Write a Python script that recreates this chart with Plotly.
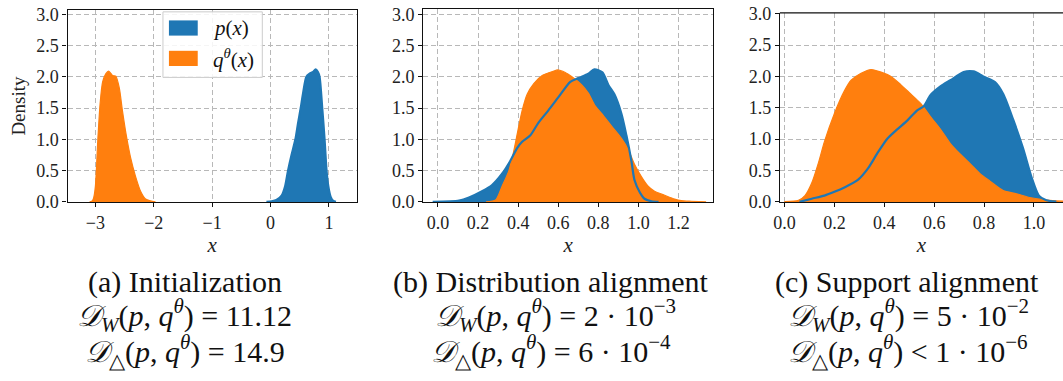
import plotly.graph_objects as go

W, H = 1063, 381
BLUE = "#1f77b4"
ORANGE = "#ff7f0e"
SERIF = "Liberation Serif"

# ---------------- data ----------------
# (a) Initialization
pa_x = [-0.07, 0.02, 0.10, 0.19, 0.25, 0.30, 0.36, 0.426, 0.47, 0.517, 0.56, 0.614, 0.67, 0.73, 0.773, 0.81, 0.84, 0.886, 0.926, 0.96, 0.99, 1.03, 1.07, 1.12]
pa_y = [0, 0.01, 0.03, 0.10, 0.25, 0.5, 0.75, 1.0, 1.25, 1.5, 1.75, 2.0, 2.05, 2.08, 2.12, 2.08, 2.0, 1.5, 1.0, 0.5, 0.25, 0.08, 0.02, 0]
qa_x = [-3.10, -3.06, -3.034, -3.0, -2.96, -2.92, -2.876, -2.82, -2.774, -2.74, -2.706, -2.65, -2.59, -2.537, -2.47, -2.395, -2.31, -2.226, -2.14, -2.056, -1.97]
qa_y = [0, 0.01, 0.05, 0.25, 0.96, 1.56, 1.92, 2.05, 2.09, 2.06, 2.02, 2.01, 1.82, 1.46, 1.06, 0.70, 0.40, 0.17, 0.046, 0.015, 0]

# (b) Distribution alignment
pb_x = [-0.026, 0.106, 0.155, 0.22, 0.27, 0.32, 0.36, 0.395, 0.42, 0.46, 0.50, 0.55, 0.60, 0.66, 0.70, 0.75, 0.78, 0.82, 0.85, 0.88, 0.915, 0.94, 0.965, 0.98, 1.007, 1.03, 1.065, 1.10]
pb_y = [0, 0.02, 0.07, 0.17, 0.27, 0.45, 0.65, 0.86, 0.96, 1.06, 1.26, 1.46, 1.67, 1.92, 1.98, 2.05, 2.12, 2.07, 1.87, 1.72, 1.41, 1.06, 0.65, 0.35, 0.15, 0.05, 0.01, 0]
qb_x = [0.24, 0.288, 0.32, 0.354, 0.378, 0.40, 0.42, 0.445, 0.478, 0.52, 0.585, 0.595, 0.635, 0.668, 0.717, 0.75, 0.783, 0.817, 0.866, 0.916, 0.95, 0.98, 1.015, 1.048, 1.08, 1.13, 1.18, 1.213, 1.263, 1.337]
qb_y = [0, 0.03, 0.25, 0.50, 0.81, 1.16, 1.46, 1.72, 1.89, 2.02, 2.10, 2.11, 2.07, 2.0, 1.87, 1.74, 1.54, 1.41, 1.21, 1.01, 0.83, 0.60, 0.40, 0.25, 0.17, 0.106, 0.045, 0.02, 0.01, 0]

# (c) Support alignment
pc_x = [0.06, 0.109, 0.16, 0.20, 0.24, 0.294, 0.334, 0.373, 0.413, 0.453, 0.493, 0.532, 0.559, 0.585, 0.625, 0.665, 0.718, 0.758, 0.797, 0.844, 0.877, 0.917, 0.956, 0.99, 1.02, 1.05, 1.09]
pc_y = [0, 0.05, 0.10, 0.16, 0.23, 0.35, 0.53, 0.78, 1.01, 1.16, 1.30, 1.46, 1.53, 1.70, 1.84, 1.94, 2.07, 2.08, 2.00, 1.91, 1.72, 1.31, 0.86, 0.40, 0.10, 0.025, 0.005]
qc_x = [0.0, 0.056, 0.082, 0.109, 0.135, 0.16, 0.20, 0.24, 0.267, 0.307, 0.347, 0.387, 0.427, 0.466, 0.506, 0.546, 0.585, 0.625, 0.665, 0.705, 0.744, 0.784, 0.824, 0.877, 0.93, 0.983, 1.036, 1.09, 1.15, 1.2]
qc_y = [0.005, 0.025, 0.10, 0.30, 0.61, 0.96, 1.41, 1.77, 1.94, 2.05, 2.11, 2.07, 2.00, 1.87, 1.72, 1.57, 1.36, 1.16, 0.93, 0.76, 0.61, 0.45, 0.33, 0.18, 0.13, 0.07, 0.035, 0.015, 0.008, 0.005]

xticks_a = [-3, -2, -1, 0, 1]
xticks_b = [0.0, 0.2, 0.4, 0.6, 0.8, 1.0, 1.2]
xticks_c = [0.0, 0.2, 0.4, 0.6, 0.8, 1.0, 1.2]
yticks = [0.0, 0.5, 1.0, 1.5, 2.0, 2.5, 3.0]

captions = [
    ["(a) Initialization",
     "<i>𝒟</i><sub><i>W</i></sub>(<i>p</i>, <i>q</i><sup><i>θ</i></sup>) = 11.12",
     "<i>𝒟</i><sub>△</sub>(<i>p</i>, <i>q</i><sup><i>θ</i></sup>) = 14.9"],
    ["(b) Distribution alignment",
     "<i>𝒟</i><sub><i>W</i></sub>(<i>p</i>, <i>q</i><sup><i>θ</i></sup>) = 2 · 10<sup>−3</sup>",
     "<i>𝒟</i><sub>△</sub>(<i>p</i>, <i>q</i><sup><i>θ</i></sup>) = 6 · 10<sup>−4</sup>"],
    ["(c) Support alignment",
     "<i>𝒟</i><sub><i>W</i></sub>(<i>p</i>, <i>q</i><sup><i>θ</i></sup>) = 5 · 10<sup>−2</sup>",
     "<i>𝒟</i><sub>△</sub>(<i>p</i>, <i>q</i><sup><i>θ</i></sup>) &lt; 1 · 10<sup>−6</sup>"],
]

# ---------------- layout geometry (pixels) ----------------
def px(x):
    return x / W

def py(y):
    return 1 - y / H

panels = [
    dict(p=(pa_x, pa_y), q=(qa_x, qa_y), xd=(61, 352), top=1.3, xr=[-3.476, 1.476], yr=[0, 3.064], xt=xticks_a, fmt="{:d}"),
    dict(p=(pb_x, pb_y), q=(qb_x, qb_y), xd=(419, 711), top=0.4, xr=[-0.073, 1.373], yr=[0, 3.078], xt=xticks_b, fmt="{:.1f}"),
    dict(p=(pc_x, pc_y), q=(qc_x, qc_y), xd=(778, 1063), top=4.0, xr=[-0.0187, 1.1167], yr=[0, 3.015], xt=xticks_c, fmt="{:.1f}"),
]
BOTTOM = 203

fig = go.Figure()
tickfont = dict(family=SERIF, size=18, color="#222222")
for i, P in enumerate(panels):
    sfx = "" if i == 0 else str(i + 1)
    xa, ya = "x" + sfx, "y" + sfx
    fig.add_trace(go.Scatter(x=P["p"][0], y=P["p"][1], mode="lines", fill="tozeroy",
                             fillcolor=BLUE, line=dict(color=BLUE, width=0, shape="spline", smoothing=0.7),
                             xaxis=xa, yaxis=ya, showlegend=False, hoverinfo="skip"))
    fig.add_trace(go.Scatter(x=P["q"][0], y=P["q"][1], mode="lines", fill="tozeroy",
                             fillcolor=ORANGE, line=dict(color=ORANGE, width=1.2, shape="spline", smoothing=0.7),
                             xaxis=xa, yaxis=ya, showlegend=False, hoverinfo="skip"))
    fig.add_trace(go.Scatter(x=P["p"][0], y=P["p"][1], mode="lines",
                             line=dict(color=BLUE, width=2.2, shape="spline", smoothing=0.7),
                             xaxis=xa, yaxis=ya, showlegend=False, hoverinfo="skip"))
    last = (i == 2)
    xkey = "xaxis" + sfx
    ykey = "yaxis" + sfx
    fig.layout[xkey] = dict(
        domain=[px(P["xd"][0]), min(1.0, px(P["xd"][1]))], range=P["xr"], anchor=ya,
        showline=True, linecolor="#111111", linewidth=1.3, mirror=(not last),
        ticks="outside", ticklen=4, tickwidth=1, tickcolor="#111111",
        tickvals=P["xt"], ticktext=[P["fmt"].format(v).replace("-", "−") for v in P["xt"]],
        tickfont=tickfont, showgrid=True, gridcolor="#b8b8b8", gridwidth=1, griddash="5px,3px",
        zeroline=False, ticklabeloverflow="allow",
        title=dict(text="<i>x</i>", font=dict(family=SERIF, size=21, color="#222222"), standoff=1),
    )
    fig.layout[ykey] = dict(
        domain=[py(BOTTOM), py(P["top"])], range=P["yr"], anchor=xa,
        showline=True, linecolor="#111111", linewidth=1.3, mirror=(not last),
        ticks="outside", ticklen=4, tickwidth=1, tickcolor="#111111",
        tickvals=yticks, ticktext=["{:.1f}".format(v) for v in yticks],
        tickfont=tickfont, showgrid=True, gridcolor="#b8b8b8", gridwidth=1, griddash="5px,3px",
        zeroline=False, ticklabeloverflow="allow",
    )
    if last:
        fig.add_shape(type="line", xref="x3 domain", yref="y3 domain", x0=0, x1=1, y0=1, y1=1,
                      line=dict(color="#111111", width=1.3))

fig.layout["yaxis"]["title"] = dict(text="Density", font=dict(family=SERIF, size=19, color="#222222"), standoff=5)

# captions
cap_cx = [[179, 179, 179], [548, 552, 548], [906, 907, 907]]
cap_y = [287, 323, 360]
for i, lines in enumerate(captions):
    for j, t in enumerate(lines):
        fig.add_annotation(text=t, xref="paper", yref="paper", x=px(cap_cx[i][j]), y=py(cap_y[j]),
                           xanchor="center", yanchor="middle", showarrow=False,
                           font=dict(family=SERIF, size=30, color="#111111"))

# legend (drawn inside panel a)
fig.add_shape(type="rect", xref="paper", yref="paper", x0=px(157), x1=px(257), y0=py(72), y1=py(3),
              line=dict(color="#cccccc", width=1), fillcolor="rgba(255,255,255,0.85)")
for k, (col, lab, yc) in enumerate([(BLUE, "<i>p</i>(<i>x</i>)", 20), (ORANGE, "<i>q</i><sup><i>θ</i></sup>(<i>x</i>)", 52)]):
    fig.add_shape(type="rect", xref="paper", yref="paper", x0=px(163), x1=px(192), y0=py(yc + 8), y1=py(yc - 8),
                  line=dict(width=0), fillcolor=col)
    fig.add_annotation(text=lab, xref="paper", yref="paper", x=px(205), y=py(yc), xanchor="left", yanchor="middle",
                       showarrow=False, font=dict(family=SERIF, size=21, color="#111111"))

fig.update_layout(width=W, height=H, margin=dict(l=0, r=0, t=0, b=0),
                  paper_bgcolor="white", plot_bgcolor="white", showlegend=False)
fig.write_html("out.html")
